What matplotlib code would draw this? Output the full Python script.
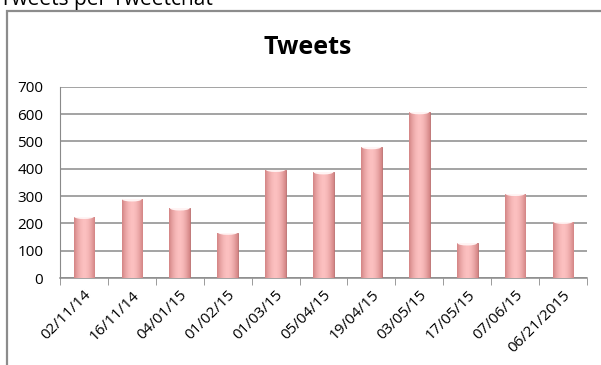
import numpy as np
import matplotlib
matplotlib.use("Agg")
import matplotlib.pyplot as plt
from matplotlib.patches import Rectangle, Ellipse

# data
dates = ["02/11/14", "16/11/14", "04/01/15", "01/02/15", "01/03/15", "05/04/15",
         "19/04/15", "03/05/15", "17/05/15", "07/06/15", "06/21/2015"]
tweets = [224, 288, 255, 166, 396, 387, 479, 607, 127, 308, 206]
yticks = [0, 100, 200, 300, 400, 500, 600, 700]

plt.rcParams['font.family'] = ['Open Sans', 'DejaVu Sans']

W, H = 601, 365
fig = plt.figure(figsize=(W / 100, H / 100), dpi=100)

# outer chart frame (cut off at right and bottom)
fig.patches.append(Rectangle((7 / W, -0.1), 1.1, 1 - 11 / H + 0.1,
                             transform=fig.transFigure, fill=False,
                             edgecolor='#8c8c8c', lw=1.6))
fig.text(0.0, 1 - 5 / H, "Tweets per Tweetchat", fontsize=15, va='baseline', ha='left')

ax = fig.add_axes([60 / W, 1 - 278 / H, (587 - 60) / W, (278 - 86.7) / H])
x = np.arange(len(dates))
bars = ax.bar(x, tweets, width=0.43, color='#f0a6a6', edgecolor='#b86c6c', lw=0.6, zorder=3)

# horizontal shading on each bar
grad = np.linspace(-1, 1, 64)
shade = 1 - np.abs(grad) ** 1.8
cmap = matplotlib.colors.LinearSegmentedColormap.from_list('pk', ['#d38484', '#fcc0c0'])
for b in bars:
    x0, w, h = b.get_x(), b.get_width(), b.get_height()
    im = ax.imshow(shade[None, :], extent=(x0, x0 + w, 0, h), cmap=cmap,
                   aspect='auto', zorder=3.5, interpolation='bicubic')
    im.set_clip_path(b)
    cap = Ellipse((x0 + w / 2, h), w * 0.95, 16, facecolor='#fff4f4',
                  edgecolor='none', zorder=3.6)
    ax.add_patch(cap)
    cap.set_clip_path(b)

ax.set_xlim(-0.5, len(dates) - 0.5)
ax.set_ylim(0, 700)
ax.set_yticks(yticks)
ax.set_yticklabels([str(v) for v in yticks], fontsize=11)
ax.yaxis.grid(True, color='#8a8a8a', lw=1.1, zorder=0)
ax.tick_params(axis='y', length=0, pad=12)

ax.set_xticks(x)
ax.set_xticklabels(dates, rotation=45, ha='right', rotation_mode='anchor', fontsize=11)
ax.tick_params(axis='x', length=0, pad=7)
ax.set_xticks(np.arange(-0.5, len(dates)), minor=True)
ax.tick_params(axis='x', which='minor', length=5, color='#8a8a8a', direction='out')

for s in ['top', 'right']:
    ax.spines[s].set_visible(False)
ax.spines['left'].set_color('#8a8a8a')
ax.spines['bottom'].set_color('#8a8a8a')
ax.spines['bottom'].set_linewidth(1.1)

fig.text(308 / W, 1 - 47 / H, "Tweets", fontsize=18, fontweight='bold',
         ha='center', va='center')

fig.savefig("out.png", dpi=100)
